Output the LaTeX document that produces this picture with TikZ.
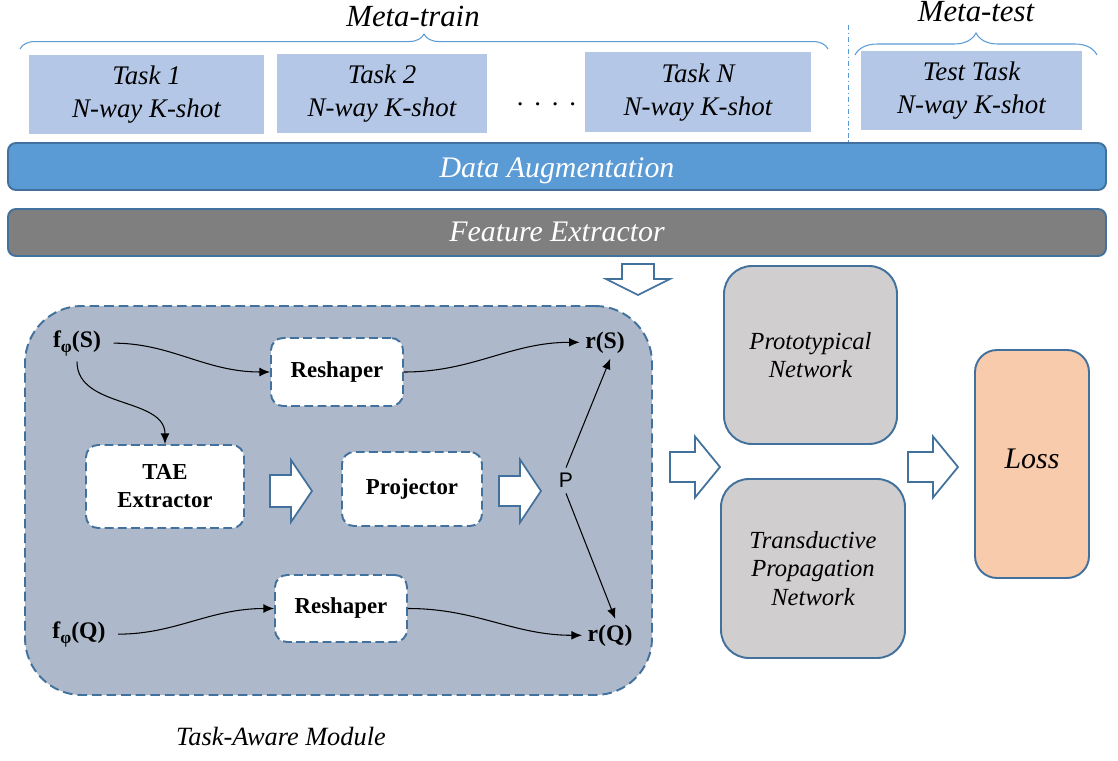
\documentclass[tikz,border=0pt]{standalone}
\usepackage{fontspec}
\setmainfont{Liberation Serif}
\newfontfamily\sansP{Liberation Sans}
\usetikzlibrary{arrows.meta,decorations.pathreplacing}
\definecolor{bordblue}{HTML}{41719C}
\definecolor{lightblue}{HTML}{5B9BD5}
\definecolor{taskfill}{HTML}{B4C7E7}
\definecolor{modfill}{HTML}{ADB9CA}
\definecolor{netfill}{HTML}{D0CECE}
\definecolor{lossfill}{HTML}{F8CBAD}
\definecolor{featfill}{HTML}{7F7F7F}
\tikzset{
  wh/.style 2 args={minimum width=#1*0.02cm,minimum height=#2*0.02cm},
  taskbox/.style={fill=taskfill,inner sep=0pt,align=center,
    font=\fontsize{15.3}{18.7}\selectfont\itshape},
  bar/.style={draw=bordblue,line width=1.1pt,rounded corners=0.16cm,inner sep=0pt,
    text=white,font=\fontsize{17}{20}\selectfont\itshape},
  dashbox/.style={draw=bordblue,fill=white,line width=1.1pt,
    dash pattern=on 5pt off 2.5pt,rounded corners=0.24cm,inner sep=0pt,align=center,
    font=\fontsize{13}{16}\selectfont\bfseries},
  netbox/.style={draw=bordblue,fill=netfill,line width=1.1pt,rounded corners=0.56cm,
    inner sep=0pt,align=center,font=\fontsize{14}{16.4}\selectfont\itshape},
  lab/.style={inner sep=3pt,font=\fontsize{13.5}{16}\selectfont\bfseries},
  conn/.style={black,line width=0.6pt,-{Latex[length=6pt,width=5pt]}},
  barrow/.style={draw=bordblue,fill=white,line width=1pt},
  bracestyle/.style={draw=lightblue,line width=0.6pt,decorate},
}
\newcommand\rblockarrow[6]{%
  \draw[barrow] ({#1},{#4-#5}) -- ({#2},{#4-#5}) -- ({#2},{#4-#6}) -- ({#3},{#4})
    -- ({#2},{#4+#6}) -- ({#2},{#4+#5}) -- ({#1},{#4+#5}) -- cycle;}
\newcommand\subphi{\raisebox{-3pt}{\fontsize{10}{10}\selectfont φ}}
\begin{document}
\begin{tikzpicture}[x=0.02cm,y=-0.02cm]
\useasboundingbox (0,0) rectangle (1118,760);

% titles and braces
\node[anchor=base,font=\fontsize{17.5}{20}\selectfont\itshape] (mtrain) at (413,27) {Meta-train};
\node[anchor=base,font=\fontsize{17.5}{20}\selectfont\itshape] (mtest) at (976,22) {Meta-test};
\draw[bracestyle,decoration={brace,amplitude=8.5pt}] (20,49) -- (828,49);
\draw[bracestyle,decoration={brace,amplitude=12.5pt}] (855,55) -- (1097,55);
\draw[draw=lightblue,line width=0.5pt,dash pattern=on 3pt off 1.5pt on 0.8pt off 1.5pt] (848,25) -- (848,142);

% tasks
\node[taskbox,wh={235}{79}] (task1) at (146.5,95) {Task 1\\N-way K-shot};
\node[taskbox,wh={210}{79}] (task2) at (382,94) {Task 2\\N-way K-shot};
\node[taskbox,wh={226}{80}] (taskN) at (698,92.5) {Task N\\N-way K-shot};
\node[taskbox,wh={221}{79}] (testtask) at (971.5,91) {Test Task\\N-way K-shot};
\node[anchor=base,inner sep=0pt,font=\fontsize{15.3}{18}\selectfont] (dots) at (546.5,106)
  {.\hspace{6.1pt}.\hspace{6.1pt}.\hspace{6.1pt}.};

% bars
\node[bar,fill=lightblue,wh={1098}{47},text height=12pt,text depth=0pt] (aug) at (557,166.5) {Data Augmentation};
\node[bar,fill=featfill,wh={1098}{47},text height=10.8pt,text depth=0pt] (feat) at (557,232.5) {Feature Extractor};

% down arrow
\draw[barrow] (622,264) -- (654,264) -- (654,279) -- (670,279) -- (638,295)
  -- (606,279) -- (622,279) -- cycle;

% task-aware module
\node[draw=bordblue,fill=modfill,line width=1.1pt,dash pattern=on 5.5pt off 2.8pt,
  rounded corners=1.14cm,wh={627}{389},inner sep=0pt] (module) at (338.5,500.5) {};
\node[anchor=base,font=\fontsize{15}{18}\selectfont\itshape] (modlab) at (281,745) {Task-Aware Module};

\node[dashbox,wh={132}{68}] (resh1) at (337,372) {Reshaper};
\node[dashbox,wh={158}{83}] (tae) at (165,486.5) {TAE\\Extractor};
\node[dashbox,wh={140}{74}] (proj) at (412,489) {Projector};
\node[dashbox,wh={132}{67}] (resh2) at (341,608.5) {Reshaper};

\node[lab,anchor=base] (fs) at (77,347) {f\subphi(S)};
\node[lab,anchor=base] (fq) at (79,638) {f\subphi(Q)};
\node[lab,anchor=base] (rs) at (605,348) {r(S)};
\node[lab,anchor=base] (rq) at (610,641) {r(Q)};
\node[inner sep=3pt,font=\sansP\fontsize{12}{14}\selectfont] (p) at (566,480.5) {P};

\rblockarrow{270}{291}{312}{491}{16}{31}
\rblockarrow{499}{520}{541}{491}{15}{31.5}

\draw[conn,shorten <=4pt] (fs.east) to[out=0,in=180] (resh1.west);
\draw[conn] (fs.south) to[out=-90,in=90] (tae.north);
\draw[conn] (resh1.east) to[out=0,in=180] (rs.west);
\draw[conn,shorten <=4pt] (fq.east) to[out=0,in=180] (resh2.west);
\draw[conn] (resh2.east) to[out=0,in=180] (rq.west);
\draw[conn] (p.north) -- ([xshift=3pt]rs.south);
\draw[conn] (p.south) -- ([xshift=3pt]rq.north);

% right side
\rblockarrow{670}{695}{720}{467}{15}{30.5}
\node[netbox,wh={173}{178}] (proto) at (810.5,355) {Prototypical\\Network};
\node[netbox,wh={184}{179}] (trans) at (813,568.5) {Transductive\\Propagation\\Network};
\rblockarrow{908}{933}{958}{467}{15}{30.5}
\node[draw=bordblue,fill=lossfill,line width=1.1pt,rounded corners=0.44cm,wh={114}{228},
  inner sep=0pt,text height=4.6pt,text depth=0pt,
  font=\fontsize{17}{20}\selectfont\itshape] (loss) at (1032,464) {Loss};
\end{tikzpicture}
\end{document}
